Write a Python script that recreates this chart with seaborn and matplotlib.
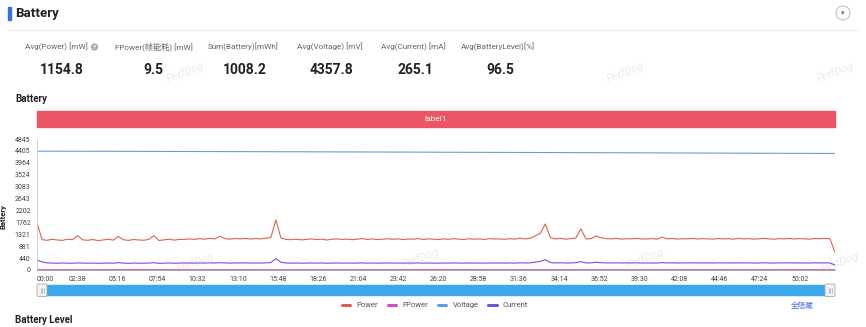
import numpy as np
import pandas as pd
import matplotlib
matplotlib.use("Agg")
import matplotlib.pyplot as plt
import seaborn as sns
from matplotlib.patches import Rectangle, FancyBboxPatch, Circle

# ---------------- data ----------------
stat_labels = ["Avg(Power) [mW]", "FPower(帧能耗) [mW]", "Sum(Battery)[mWh]",
               "Avg(Voltage) [mV]", "Avg(Current) [mA]", "Avg(BatteryLevel)[%]"]
stat_values = ["1154.8", "9.5", "1008.2", "4357.8", "265.1", "96.5"]

sample_step = 20  # seconds between samples
power = [
    1750, 1120, 1100, 1135, 1110, 1095, 1140, 1120, 1270, 1115,
    1100, 1125, 1090, 1110, 1140, 1105, 1240, 1120, 1095, 1130,
    1110, 1100, 1135, 1270, 1090, 1115, 1140, 1105, 1130, 1130,
    1150, 1130, 1160, 1140, 1170, 1150, 1250, 1160, 1140, 1165,
    1150, 1170, 1145, 1160, 1150, 1175, 1200, 1850, 1180, 1130,
    1120, 1140, 1115, 1130, 1150, 1125, 1140, 1110, 1135, 1150,
    1130, 1145, 1120, 1140, 1160, 1130, 1150, 1125, 1140, 1155,
    1135, 1150, 1125, 1145, 1140, 1160, 1130, 1150, 1140, 1125,
    1150, 1135, 1160, 1140, 1130, 1155, 1140, 1150, 1130, 1160,
    1145, 1150, 1135, 1160, 1140, 1180, 1150, 1170, 1260, 1350,
    1700, 1200, 1150, 1170, 1140, 1160, 1180, 1520, 1150, 1160,
    1260, 1190, 1160, 1150, 1170, 1140, 1160, 1150, 1170, 1145,
    1150, 1160, 1140, 1220, 1150, 1165, 1140, 1160, 1150, 1170,
    1145, 1160, 1150, 1140, 1165, 1150, 1160, 1140, 1170, 1150,
    1160, 1140, 1155, 1170, 1150, 1140, 1160, 1150, 1170, 1145,
    1160, 1150, 1140, 1165, 1155, 1170, 1160, 650,
]
current = [
    370, 300, 262, 255, 250, 258, 252, 249, 262, 254,
    251, 256, 248, 252, 258, 250, 272, 254, 249, 256,
    252, 250, 257, 270, 248, 253, 258, 251, 255, 262,
    258, 254, 260, 256, 263, 258, 270, 261, 256, 262,
    258, 263, 257, 260, 258, 264, 275, 420, 285, 258,
    254, 258, 252, 256, 260, 254, 258, 251, 256, 260,
    255, 258, 253, 257, 261, 254, 259, 253, 257, 261,
    255, 259, 253, 258, 256, 261, 254, 259, 256, 253,
    259, 255, 261, 256, 254, 260, 256, 259, 254, 261,
    257, 259, 255, 261, 256, 266, 259, 264, 290, 320,
    380, 275, 262, 266, 258, 263, 268, 305, 262, 264,
    285, 268, 262, 260, 265, 258, 263, 260, 265, 259,
    260, 263, 258, 274, 260, 264, 258, 263, 260, 265,
    259, 263, 260, 258, 264, 260, 263, 258, 265, 260,
    263, 258, 262, 265, 260, 258, 263, 260, 265, 259,
    262, 260, 258, 264, 261, 265, 262, 180,
]
slow_time = [0, 200, 400, 600, 800, 1000, 1200, 1400, 1600, 1800,
             2000, 2200, 2400, 2600, 2800, 3000, 3140]
voltage = [4395, 4392, 4388, 4383, 4378, 4373, 4368, 4362, 4356, 4350,
           4344, 4338, 4332, 4326, 4320, 4314, 4310]
fpower = [10, 9, 11, 9, 10, 8, 9, 10, 11, 9, 10, 9, 8, 10, 9, 11, 9]

y_ticks = [0, 440, 881, 1321, 1762, 2202, 2643, 3083, 3524, 3964, 4405, 4845]
x_tick_labels = ["00:00", "02:38", "05:16", "07:54", "10:32", "13:10", "15:48",
                 "18:26", "21:04", "23:42", "26:20", "28:58", "31:36", "34:14",
                 "36:52", "39:30", "42:08", "44:46", "47:24", "50:02"]
x_tick_step = 158
series_names = ["Power", "FPower", "Voltage", "Current"]
series_colors = ["#e4604a", "#d04cc2", "#5c9fe8", "#7650df"]

t_fast = np.arange(len(power)) * sample_step
df_fast = pd.DataFrame({"t": t_fast, "Power": power, "Current": current})
df_slow = pd.DataFrame({"t": slow_time, "Voltage": voltage, "FPower": fpower})

# ---------------- figure ----------------
sns.set_theme(style="white")
plt.rcParams['font.family'] = ['Roboto', 'Noto Sans CJK SC', 'DejaVu Sans']

W, H = 866, 327
fig = plt.figure(figsize=(W / 100, H / 100), dpi=100)
fig.patch.set_facecolor("white")

ov = fig.add_axes([0, 0, 1, 1], zorder=0)
ov.set_xlim(0, W)
ov.set_ylim(H, 0)
ov.axis("off")
ov.patch.set_visible(False)

def fx(x):
    return x / W

def fy(y):
    return 1 - y / H

ax = fig.add_axes([fx(37), fy(270), fx(835) - fx(37), fy(139) - fy(270)], zorder=2)
ax.patch.set_visible(False)

data_map = {"Power": df_fast, "Current": df_fast, "Voltage": df_slow, "FPower": df_slow}
for name, col in zip(series_names, series_colors):
    sns.lineplot(data=data_map[name], x="t", y=name, ax=ax, color=col,
                 lw=0.8, label=name)

ax.set_xlim(0, len(power) * sample_step - sample_step)
ax.set_ylim(0, 4845)
ax.set_yticks(y_ticks)
ax.set_yticklabels([str(v) for v in y_ticks])
ax.set_xticks(np.arange(len(x_tick_labels)) * x_tick_step)
ax.set_xticklabels(x_tick_labels)
ax.get_xticklabels()[0].set_horizontalalignment("left")
for s in ["top", "right"]:
    ax.spines[s].set_visible(False)
ax.spines["left"].set_color("#cccccc")
ax.spines["left"].set_linewidth(0.6)
ax.spines["bottom"].set_color("#999999")
ax.spines["bottom"].set_linewidth(0.6)
ax.tick_params(axis="both", length=3, width=0.5, color="#999999",
               labelsize=5, labelcolor="#444444", pad=1.5)
ax.set_xlabel("")
ax.set_ylabel("Battery", fontsize=5.5, fontweight="bold", color="#222222")
ax.yaxis.set_label_coords(-0.0376, 0.41)

leg = ax.legend(loc="center", bbox_to_anchor=(fx(435), fy(305)),
                bbox_transform=fig.transFigure, ncol=4, frameon=False,
                fontsize=5.5, handlelength=1.1, handletextpad=0.8,
                columnspacing=1.3, labelcolor="#555555")
for ln in leg.get_lines():
    ln.set_linewidth(2.2)

# ---------------- header & decorations ----------------
ov.add_patch(Rectangle((8, 7), 2.5, 13, color="#3d6ee0"))
ov.text(15, 14, "Battery", fontsize=9.5, fontweight="bold", color="#222222",
        ha="left", va="center")
ov.add_patch(Circle((843, 13), 7, fc="white", ec="#bbbbbb", lw=0.7))
ov.text(843, 13.5, "▾", fontsize=5, color="#666666", ha="center", va="center",
        family=["DejaVu Sans"])
ov.plot([8, 858], [30, 30], color="#eeeeee", lw=0.8)

label_left = [25, 115, 208, 297, 381, 461]
label_right = [98, 192, 282, 366, 450, 540]
for lab, val, l, r in zip(stat_labels, stat_values, label_left, label_right):
    ov.text(l, 47, lab, fontsize=5.9, color="#666666", ha="left", va="center")
    ov.text((l + r) / 2, 70, val, fontsize=10, fontweight="bold",
            color="#222222", ha="center", va="center")
ov.add_patch(Circle((94.5, 47), 3.6, fc="#aaaaaa", ec="none"))
ov.text(94.5, 47.3, "?", fontsize=4.5, color="white", ha="center",
        va="center", fontweight="bold")

ov.text(15, 99, "Battery", fontsize=7, fontweight="bold", color="#222222",
        ha="left", va="center")
ov.text(15, 320, "Battery Level", fontsize=7, fontweight="bold",
        color="#222222", ha="left", va="center")

# label bar
ov.add_patch(Rectangle((37, 111), 798, 16, color="#ec5565"))
ov.text(436, 119, "label1", fontsize=6, color="white", ha="center", va="center")

# data zoom slider
ov.add_patch(Rectangle((42, 285), 788, 10, color="#3aa8ea"))
for hx in (37, 825):
    ov.add_patch(FancyBboxPatch((hx, 284), 10, 12.5,
                                boxstyle="round,pad=0,rounding_size=1.5",
                                fc="#f2f2f2", ec="#aaaaaa", lw=0.6))
    for dx in (3.5, 5, 6.5):
        ov.plot([hx + dx, hx + dx], [287.5, 293], color="#999999", lw=0.4)

ov.text(802, 305, "全隐藏", fontsize=5.5, color="#4a6ee0", ha="center",
        va="center")

# watermarks
for (wx, wy) in [(185, 72), (625, 72), (835, 72), (195, 262), (420, 258),
                 (645, 258), (840, 262)]:
    ov.text(wx, wy, "PerfDog", fontsize=8, color="#ececec", rotation=20,
            ha="center", va="center", style="italic", zorder=5)

fig.savefig("out.png", dpi=100)
